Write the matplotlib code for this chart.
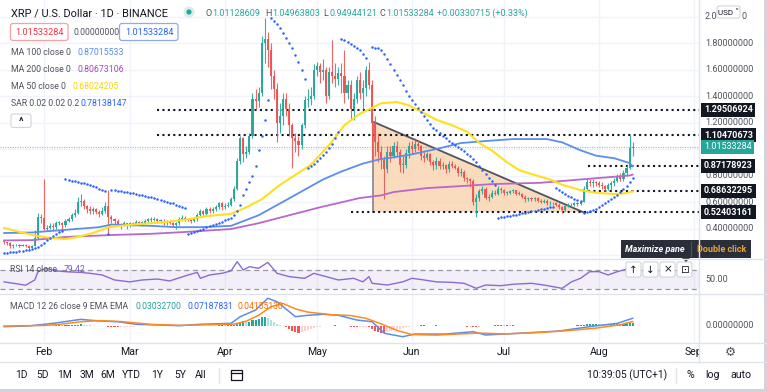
import matplotlib
matplotlib.use("Agg")
import matplotlib.pyplot as plt
import numpy as np
from matplotlib.patches import Rectangle, FancyBboxPatch, Polygon, Circle

plt.rcParams['font.family'] = ['Roboto', 'DejaVu Sans']

# ---------------- DATA ----------------
first_day = -13          # day index of first candle (0 = 1 Feb)
first_open = 0.300

close = [
    # Jan 19-31
    .298, .290, .268, .272, .276, .270, .276, .270, .256, .268, .330, .490, .480,
    # Feb
    .400, .405, .420, .410, .440, .440, .425, .460, .475, .505, .520, .600, .610, .570,
    .550, .530, .545, .525, .510, .530, .570, .490, .470, .455, .430, .425, .440, .420,
    # Mar
    .440, .430, .450, .440, .445, .455, .470, .465, .470, .460, .460, .445, .455, .440, .430,
    .440, .475, .480, .470, .465, .460, .470, .500, .530, .510, .545, .535, .545, .565, .590, .560,
    # Apr
    .570, .580, .620, .700, .910, 1.080, .960, .980, 1.100, 1.380, 1.360, 1.420, 1.800, 1.830, 1.750,
    1.550, 1.450, 1.200, 1.250, 1.380, 1.300, 1.180, 1.080, 1.060, 1.030, 1.180, 1.370, 1.380, 1.400, 1.600,
    # May
    1.630, 1.580, 1.600, 1.400, 1.580, 1.550, 1.530, 1.570, 1.550, 1.420, 1.480, 1.300, 1.380, 1.520, 1.420,
    1.460, 1.600, 1.480, 1.200, 1.050, .980, .920, .850, .980, .950, 1.020, .980, .880, .880, .970, 1.020,
    # Jun
    1.000, 1.040, 1.020, .950, .930, .960, .900, .880, .910, .870, .880, .850, .890, .870, .860,
    .820, .830, .780, .770, .760, .600, .630, .680, .700, .630, .640, .670, .660, .700, .690,
    # Jul
    .670, .670, .680, .690, .660, .660, .640, .620, .630, .620, .630, .610, .600, .610, .590,
    .590, .590, .580, .560, .540, .570, .575, .580, .590, .585, .600, .700, .750, .740, .750, .740,
    # Aug 1-12
    .730, .720, .700, .730, .740, .760, .790, .770, .820, .860, 1.01128609, 1.01533284,
]
high = [
    .305, .300, .295, .280, .285, .280, .282, .280, .272, .275, .390, .520, .510,
    .770, .430, .440, .440, .455, .460, .450, .470, .490, .520, .545, .640, .660, .620,
    .580, .570, .560, .555, .540, .560, .600, .690, .500, .480, .470, .440, .455, .445,
    .450, .450, .465, .460, .455, .470, .480, .485, .490, .480, .470, .470, .465, .465, .450,
    .450, .490, .500, .495, .480, .475, .480, .520, .550, .540, .560, .560, .560, .580, .600, .600,
    .590, .600, .640, .720, .930, 1.100, 1.090, 1.020, 1.120, 1.420, 1.450, 1.470, 1.850, 1.990, 1.880,
    1.800, 1.600, 1.500, 1.350, 1.420, 1.420, 1.350, 1.200, 1.120, 1.100, 1.200, 1.400, 1.450, 1.470, 1.640,
    1.660, 1.650, 1.680, 1.620, 1.620, 1.820, 1.650, 1.620, 1.650, 1.750, 1.520, 1.520, 1.420, 1.550, 1.580,
    1.520, 1.630, 1.660, 1.520, 1.250, 1.120, 1.020, .950, 1.020, 1.020, 1.050, 1.060, 1.000, .950, 1.000, 1.050,
    1.060, 1.080, 1.070, 1.030, .980, .980, .970, .920, .940, .930, .900, .890, .910, .910, .890,
    .870, .860, .840, .790, .780, .770, .660, .700, .720, .710, .660, .690, .690, .720, .710,
    .700, .680, .690, .700, .690, .680, .670, .650, .640, .640, .640, .640, .620, .620, .620,
    .610, .600, .600, .590, .570, .580, .590, .590, .600, .600, .610, .720, .780, .770, .770, .760,
    .760, .750, .730, .740, .760, .780, .810, .820, .840, .880, 1.10470673, 1.04963803,
]
low = [
    .285, .275, .250, .255, .265, .262, .265, .262, .248, .252, .265, .320, .440,
    .390, .380, .395, .390, .400, .425, .400, .410, .450, .460, .490, .510, .570, .550,
    .520, .510, .510, .510, .490, .500, .520, .350, .440, .430, .420, .400, .420, .400,
    .415, .420, .425, .430, .420, .440, .450, .450, .460, .450, .440, .430, .430, .435, .410,
    .400, .430, .460, .460, .455, .445, .450, .460, .490, .490, .500, .520, .520, .530, .550, .540,
    .550, .560, .570, .610, .690, .890, .900, .930, .960, 1.080, 1.300, 1.320, 1.400, 1.650, 1.620,
    1.450, 1.380, 1.050, 1.120, 1.180, 1.250, 1.100, .860, .980, .950, 1.000, 1.160, 1.320, 1.330, 1.380,
    1.550, 1.500, 1.520, 1.350, 1.380, 1.500, 1.470, 1.480, 1.420, 1.350, 1.380, 1.220, 1.220, 1.350, 1.380,
    1.300, 1.400, 1.450, .900, .950, .900, .850, .620, .820, .900, .930, .950, .830, .820, .860, .930,
    .960, .980, .990, .920, .900, .920, .880, .840, .850, .850, .850, .820, .830, .860, .850,
    .800, .800, .760, .740, .710, .580, .490, .610, .660, .620, .610, .630, .650, .650, .670,
    .650, .650, .660, .670, .650, .650, .630, .600, .610, .610, .610, .600, .590, .590, .580,
    .580, .580, .570, .550, .515, .530, .560, .565, .570, .570, .575, .600, .680, .720, .710, .720,
    .710, .700, .680, .690, .690, .720, .750, .760, .760, .800, .850, .94944121,
]

# moving averages (day index, value)
ma50_t = [-13, -8, -2, 2, 7, 11, 16, 21, 29, 35, 40, 47, 53, 61, 66, 71, 77, 81, 87, 93, 98, 103,
          110, 115, 119, 124, 128, 133, 138, 142, 146, 151, 155, 162, 165, 169, 175, 180, 186, 190, 192]
ma50_v = [0.404, 0.374, 0.343, 0.33, 0.32, 0.336, 0.366, 0.41, 0.43, 0.44, 0.45, 0.47, 0.494, 0.51,
          0.56, 0.62, 0.73, 0.79, 0.88, 1.03, 1.18, 1.265, 1.345, 1.355, 1.33, 1.27, 1.22, 1.18, 1.13,
          1.045, 0.99, 0.90, 0.84, 0.79, 0.77, 0.73, 0.69, 0.67, 0.66, 0.667, 0.6802]
ma100_t = [-13, -4, 7, 18, 22, 35, 43, 51, 61, 70, 79, 91, 97, 104, 109, 119, 128, 136, 144, 153,
           162, 164, 169, 175, 180, 186, 191, 192]
ma100_v = [0.366, 0.37, 0.39, 0.41, 0.43, 0.42, 0.41, 0.41, 0.42, 0.50, 0.615, 0.77, 0.83, 0.89,
           0.92, 0.955, 1.0, 1.045, 1.06, 1.075, 1.075, 1.075, 1.05, 0.99, 0.95, 0.93, 0.894, 0.8702]
ma200_t = [-13, -4, 7, 21, 35, 47, 61, 70, 80, 90, 103, 110, 114, 125, 136, 146, 162, 175, 191, 192]
ma200_v = [0.31, 0.312, 0.336, 0.35, 0.36, 0.375, 0.396, 0.44, 0.50, 0.56, 0.63, 0.65, 0.675, 0.705,
           0.72, 0.735, 0.745, 0.77, 0.80, 0.8067]

# parabolic SAR dots
sar_t = (list(range(-13, 7)) + list(range(7, 21)) + [21] + list(range(22, 47)) + list(range(47, 74))
         + list(range(74, 86)) + list(range(86, 97)) + list(range(97, 106)) + list(range(107, 148))
         + list(range(148, 167)) + list(range(167, 176)) + list(range(176, 193)))
sar_v = ([.215, .217, .219, .221, .224, .227, .230, .234, .238, .243, .250, .260, .275, .290, .310,
          .330, .345, .360, .370, .380]
         + [.770, .765, .760, .755, .750, .745, .740, .735, .730, .720, .710, .700, .690, .680]
         + [.360]
         + [.690, .688, .685, .682, .678, .674, .670, .666, .661, .656, .650, .645, .640, .634, .628,
            .622, .616, .610, .603, .596, .589, .581, .573, .564, .555]
         + [.360, .368, .376, .384, .392, .400, .408, .416, .425, .434, .443, .452, .462, .472, .482,
            .500, .530, .580, .650, .700, .750, .800, .870, .990, 1.10, 1.22, 1.37]
         + [1.99, 1.965, 1.94, 1.91, 1.875, 1.84, 1.80, 1.76, 1.71, 1.66, 1.60, 1.53]
         + [.855, .870, .890, .910, .930, .955, .980, 1.01, 1.04, 1.08, 1.13]
         + [1.83, 1.82, 1.81, 1.795, 1.78, 1.765, 1.745, 1.72, 1.69]
         + [1.77, 1.765, 1.76, 1.75, 1.72, 1.68, 1.64, 1.60, 1.56, 1.52, 1.48, 1.44, 1.40, 1.37, 1.34,
            1.31, 1.28, 1.25, 1.22, 1.19, 1.16, 1.14, 1.12, 1.10, 1.08, 1.06, 1.045, 1.03, 1.015, 1.00,
            .985, .965, .945, .925, .900, .870, .840, .810, .780, .755, .730]
         + [.480, .484, .488, .492, .496, .500, .505, .510, .515, .520, .525, .530, .535, .540, .545,
            .550, .555, .560, .565]
         + [.705, .690, .675, .660, .645, .635, .625, .615, .610]
         + [.515, .522, .530, .540, .550, .562, .575, .590, .605, .620, .637, .655, .675, .697, .720,
            .750, .7814])

# RSI
rsi_t = [-13, -6, -3, -2, -1, 1, 4, 8, 12, 15, 19, 23, 28, 32, 37, 41, 47, 50, 51, 54, 58, 61, 63,
         65, 67, 70, 73, 76, 80, 85, 88, 90, 96, 101, 104, 106, 107, 112, 117, 120, 124, 128, 133,
         137, 141, 144, 149, 153, 159, 163, 169, 172, 175, 178, 181, 184, 187, 189, 190, 191, 192]
rsi_v = [45, 38, 49, 66, 70, 73, 68, 66, 65, 63, 59.5, 49, 45, 49, 51, 47, 59.5, 65, 52.5, 59.5, 63,
         68, 87.5, 70, 77, 73.5, 86, 63, 56, 52.5, 63, 59.5, 49, 52.5, 45, 56, 42, 38.4, 45, 52.5,
         49, 45, 44, 42, 31.4, 38.4, 37, 40, 42, 38.4, 31.4, 45, 52.5, 66.5, 66.5, 59.5, 66.5, 70,
         72, 80, 79.42]

# MACD
macd_t = [-13, -5, 3, 12, 18, 24, 30, 44, 51, 61, 64, 69, 73, 76, 82, 86, 91, 96, 102, 107, 111,
          117, 121, 131, 140, 144, 153, 168, 178, 187, 192]
macd_v = [-0.006, 0.0, 0.025, 0.062, 0.047, 0.04, 0.016, 0.003, 0.016, 0.025, 0.087, 0.149, 0.259,
          0.227, 0.087, 0.10, 0.109, 0.10, 0.056, 0.04, -0.068, -0.10, -0.075, -0.075, -0.053,
          -0.084, -0.071, -0.047, -0.006, 0.025, 0.0719]
sig_t = [-13, 0, 5, 12, 18, 25, 35, 45, 55, 62, 66, 70, 74, 78, 82, 86, 94, 100, 105, 110, 115,
         120, 128, 135, 142, 150, 160, 170, 180, 188, 192]
sig_v = [0.0, 0.005, 0.015, 0.04, 0.05, 0.042, 0.015, 0.006, 0.012, 0.018, 0.045, 0.10, 0.18, 0.21,
         0.16, 0.13, 0.105, 0.098, 0.072, 0.02, -0.04, -0.08, -0.085, -0.075, -0.066, -0.074,
         -0.063, -0.045, -0.02, 0.012, 0.0416]
hist = [
    0.001, 0.001, -0.001, -0.001, 0.000, 0.000, 0.001, 0.000, -0.001, 0.000,
    0.004, 0.012, 0.015,
    0.010, 0.008, 0.007, 0.006, 0.006, 0.006, 0.005, 0.007, 0.008, 0.010, 0.012,
    0.014, 0.015, 0.014, 0.010, 0.007, 0.004, 0.002, 0.000, -0.002,
    -0.003, -0.008, -0.011, -0.013, -0.014, -0.013, -0.011, -0.009, -0.007, -0.005,
    -0.003, -0.002, -0.001, 0.000, 0.001, 0.001, 0.002, 0.001, 0.000, -0.001, -0.002, -0.002, -0.003,
    -0.002, -0.001, 0.001, 0.002, 0.003, 0.003, 0.002, 0.001, 0.001, 0.000, 0.001, 0.002, 0.003,
    0.004, 0.005, 0.006, 0.005, 0.005, 0.006, 0.008,
    0.020, 0.040, 0.045, 0.040, 0.042, 0.055, 0.058, 0.062, 0.080, 0.085,
    0.072, 0.055, 0.040, 0.018, 0.008, 0.004, -0.005,
    -0.025, -0.045, -0.058, -0.065, -0.060, -0.045, -0.035, -0.025, -0.015, -0.010, -0.006, -0.004, -0.002,
    0.001, 0.004, 0.005, 0.004, 0.002, 0.000, -0.002, -0.006,
    -0.010, -0.012, -0.010, -0.008, -0.006, -0.010,
    -0.030, -0.045, -0.055, -0.065, -0.068, -0.060,
    -0.050, -0.040, -0.032, -0.025, -0.020, -0.014, -0.008, -0.004,
    0.002, 0.004, 0.005, 0.005, 0.004, 0.003, 0.004, 0.005, 0.004, 0.003, 0.003, 0.002, 0.002, 0.001, 0.000, -0.001,
    -0.004, -0.006, -0.005, -0.006, -0.010, -0.008,
    -0.004, -0.001, 0.002, 0.004, 0.006, 0.007, 0.007, 0.006, 0.006, 0.005, 0.005, 0.004, 0.004, 0.003,
    0.003, 0.003, 0.002, 0.002, 0.001, 0.001, 0.000, -0.001, -0.002,
    -0.002, -0.003, -0.003, -0.004, -0.004, -0.002, 0.001,
    0.004, 0.006, 0.008, 0.012, 0.016, 0.020, 0.022, 0.022, 0.021, 0.019, 0.018, 0.017, 0.018, 0.019,
    0.020, 0.021, 0.022, 0.024, 0.028, 0.0303,
]

# horizontal dotted levels and triangle
level_values = [1.29506924, 1.10470673, 0.87178923, 0.68632295, 0.52403161]
level_start = [37, 37, 177.5, 177.5, 100]
triangle_pts = [(107.3, 1.206), (107.3, 0.524), (175.8, 0.524)]
last_price = 1.01533284

month_labels = ['Feb', 'Mar', 'Apr', 'May', 'Jun', 'Jul', 'Aug', 'Sep']
month_pos = [0, 28, 59, 89, 120, 150, 181, 212]
price_ticks = [0.4, 0.6, 0.8, 1.2, 1.4, 1.6, 1.8, 2.0]
grid_prices = [0.2, 0.4, 0.6, 0.8, 1.0, 1.2, 1.4, 1.6, 1.8, 2.0]

# ---------------- FIGURE ----------------
W, H = 767, 392
fig = plt.figure(figsize=(W / 100, H / 100), dpi=100)
fig.patch.set_facecolor('white')

def pax(x0, y0, x1, y1, z=1):
    a = fig.add_axes([x0 / W, 1 - y1 / H, (x1 - x0) / W, (y1 - y0) / H], zorder=z)
    a.set_axis_off()
    a.patch.set_alpha(0)
    return a

PX0, PXD = 44.0, 3.066
TL, TR = -PX0 / PXD, (699 - PX0) / PXD

UP, DN = '#26a69a', '#ef5350'
GRID = '#f0f3fa'
TXT = '#131722'
LBL = '#50535e'

t = np.arange(first_day, first_day + len(close))
c = np.array(close); hi = np.array(high); lo = np.array(low)
o = np.concatenate([[first_open], c[:-1]])
o[-1] = 1.01128609

# main pane
ax = pax(0, 0, 699, 258)
ax.set_xlim(TL, TR)
ax.set_ylim(1 + (149 - 258) / 132.5, 1 + 149 / 132.5)
for gp in grid_prices:
    ax.axhline(gp, color=GRID, lw=1, zorder=0)
for mp in month_pos:
    ax.axvline(mp, color=GRID, lw=1, zorder=0)

tri = Polygon(triangle_pts, closed=True, facecolor='#f9d5b3', edgecolor='none', alpha=0.85, zorder=1)
ax.add_patch(tri)
ax.plot([triangle_pts[0][0], triangle_pts[2][0]], [triangle_pts[0][1], triangle_pts[2][1]],
        color='#50535e', lw=1.3, zorder=2)
ax.plot([triangle_pts[0][0], triangle_pts[1][0]], [triangle_pts[0][1], triangle_pts[1][1]],
        color='#8a8d96', lw=1.3, zorder=2)

ax.axhline(last_price, color='#26a69a', lw=0.8, ls=(0, (1, 1.2)), alpha=0.6, zorder=1)

for lv, ls0 in zip(level_values, level_start):
    ax.hlines(lv, ls0, TR, colors='#131722', lw=1.5, linestyles=(0, (1, 1.6)), zorder=3)

cols = np.where(c >= o, UP, DN)
ax.vlines(t, lo, hi, colors=cols, lw=0.8, alpha=0.9, zorder=4)
body_lo = np.minimum(o, c)
body_h = np.maximum(np.abs(c - o), 0.006)
ax.bar(t, body_h, bottom=body_lo, width=0.68, color=cols, lw=0, alpha=0.95, zorder=5)

ax.plot(ma200_t, ma200_v, color='#ba68c8', lw=1.3, zorder=6)
ax.plot(ma100_t, ma100_v, color='#5b8def', lw=1.3, zorder=6)
ax.plot(ma50_t, ma50_v, color='#ffe01b', lw=1.5, zorder=6)
ax.scatter(sar_t, sar_v, s=3.2, color='#2962ff', lw=0, zorder=7)

# RSI pane
ar = pax(0, 259, 699, 293)
ar.set_xlim(TL, TR)
ar.set_ylim(50 - (293 - 279.5) / 0.475, 50 + (279.5 - 259) / 0.475)
for mp in month_pos:
    ar.axvline(mp, color=GRID, lw=1, zorder=0)
ar.axhspan(30, 70, color='#7e57c2', alpha=0.09, lw=0, zorder=0)
for lvl in (70, 30):
    ar.axhline(lvl, color='#9598a1', lw=0.9, ls=(0, (4, 3)), zorder=1)
ar.plot(rsi_t, rsi_v, color='#8c6bd0', lw=1.0, zorder=3)

# MACD pane
am = pax(0, 294, 699, 342)
am.set_xlim(TL, TR)
am.set_ylim((326 - 342) * 0.00934, (326 - 294) * 0.00934)
for mp in month_pos:
    am.axvline(mp, color=GRID, lw=1, zorder=0)
hv = np.array(hist)
hcols = []
for i, hval in enumerate(hv):
    prev = hv[i - 1] if i > 0 else 0
    if hval >= 0:
        hcols.append('#26a69a' if hval >= prev else '#b2dfdb')
    else:
        hcols.append('#ffcdd2' if hval > prev else '#ff5252')
am.bar(t, hv, width=0.68, color=hcols, lw=0, zorder=2)
am.plot(macd_t, macd_v, color='#5b8def', lw=1.1, zorder=3)
am.plot(sig_t, sig_v, color='#ff8a1e', lw=1.1, zorder=4)

# time axis
at = pax(0, 342, 699, 362)
at.set_xlim(TL, TR)
at.set_ylim(0, 1)
for lab, mp in zip(month_labels, month_pos):
    at.text(mp, 0.5, lab, ha='center', va='center', fontsize=7.6, color=TXT, clip_on=True)

# ---------------- OVERLAY (pixel coords) ----------------
ov = pax(0, 0, W, H, z=10)
ov.set_xlim(0, W)
ov.set_ylim(H, 0)

LINE = '#e0e3eb'
ov.plot([699, 699], [0, 362], color=LINE, lw=1)
for yy in (258.5, 293.5, 342.5):
    ov.plot([0, 767], [yy, yy], color=LINE, lw=1)
ov.plot([0, 767], [362, 362], color=LINE, lw=1)
ov.add_patch(Rectangle((0, 389), 767, 3, color='#d1d4dc', lw=0))
ov.add_patch(Rectangle((764, 0), 3, 392, color='#d1d4dc', lw=0))

# price axis labels
ymap = lambda p: 149 - 132.5 * (p - 1)
for p in price_ticks:
    if p == 2.0:
        ov.text(705, ymap(p), '2.0', fontsize=6.5, color=LBL, va='center', ha='left')
        ov.text(742, ymap(p), '0', fontsize=6.5, color=LBL, va='center', ha='left')
    else:
        ov.text(705, ymap(p), '%.8f' % p, fontsize=6.5, color=LBL, va='center', ha='left')
for lv in level_values:
    ov.text(704, ymap(lv), '%.8f' % lv, fontsize=6.5, color='white', va='center', ha='left',
            fontweight='bold',
            bbox=dict(boxstyle='square,pad=0.28', fc='#131722', ec='none'))
ov.text(704, ymap(last_price), '%.8f' % last_price, fontsize=6.5, color='white', va='center',
        ha='left', bbox=dict(boxstyle='square,pad=0.28', fc='#26a69a', ec='none'))
# USD button
ov.add_patch(FancyBboxPatch((717, 6), 23, 12, boxstyle='round,pad=0,rounding_size=2',
                            fc='white', ec='#d1d4dc', lw=0.8))
ov.text(728.5, 12.3, 'USD ˅', fontsize=5.8, color=TXT, ha='center', va='center')

ov.text(705, 280, '50.00', fontsize=6.5, color=LBL, va='center')
ov.text(705, 326, '0.00000000', fontsize=6.5, color=LBL, va='center')

# header
ov.text(11, 13, 'XRP / U.S. Dollar · 1D · BINANCE', fontsize=7.9, color=TXT, va='center')
ov.add_patch(Circle((189, 12), 5.5, color='#d6efec', lw=0))
ov.add_patch(Circle((189, 12), 2.6, color='#26a69a', lw=0))
hdr = [(206, 'O', LBL), (212, '1.01128609', UP), (265, 'H', LBL), (272, '1.04963803', UP),
       (323, 'L', LBL), (329, '0.94944121', UP), (379, 'C', LBL), (386, '1.01533284', UP),
       (437, '+0.00330715 (+0.33%)', UP)]
for xx, s, col in hdr:
    ov.text(xx, 13, s, fontsize=6.5, color=col, va='center')

ov.add_patch(FancyBboxPatch((10.5, 23.5), 57.5, 17, boxstyle='round,pad=0,rounding_size=2.5',
                            fc='white', ec='#f7a1a5', lw=0.9))
ov.text(39, 32.2, '1.01533284', fontsize=6.6, color='#f23645', ha='center', va='center')
ov.text(74, 32.2, '0.00000000', fontsize=6.2, color=LBL, va='center')
ov.add_patch(FancyBboxPatch((119.5, 23.5), 58.5, 17, boxstyle='round,pad=0,rounding_size=2.5',
                            fc='white', ec='#8fa9f5', lw=0.9))
ov.text(149, 32.2, '1.01533284', fontsize=6.6, color='#2962ff', ha='center', va='center')

legend_rows = [(52, 'MA 100 close 0', 77, '0.87015533', '#5b8def'),
               (69.5, 'MA 200 close 0', 77, '0.80673106', '#ab47bc'),
               (86.5, 'MA 50 close 0', 72.5, '0.68024205', '#f5d80f'),
               (103.5, 'SAR 0.02 0.02 0.2', 80.5, '0.78138147', '#2962ff')]
for yy, lab, xv, val, col in legend_rows:
    ov.text(11, yy, lab, fontsize=6.3, color=LBL, va='center')
    ov.text(xv, yy, val, fontsize=6.3, color=col, va='center')
ov.add_patch(FancyBboxPatch((11, 114), 20, 13.5, boxstyle='round,pad=0,rounding_size=2',
                            fc='white', ec='#d1d4dc', lw=0.8))
ov.text(21, 121.5, '^', fontsize=7.5, color=TXT, ha='center', va='center', fontweight='bold')

# RSI / MACD legends
ov.text(10, 270, 'RSI 14 close', fontsize=6.2, color=LBL, va='center')
ov.text(64, 270, '79.42', fontsize=6.2, color='#7e57c2', va='center')
ov.text(10, 306.5, 'MACD 12 26 close 9 EMA EMA', fontsize=6.2, color=LBL, va='center')
ov.text(135, 306.5, '0.03032700', fontsize=6.2, color='#26a69a', va='center')
ov.text(188, 306.5, '0.07187831', fontsize=6.2, color='#2962ff', va='center')
ov.text(238, 306.5, '0.04155130', fontsize=6.2, color='#ff6d00', va='center')

# pane buttons
for bx, sym in zip([626, 643, 660, 677], ['↑', '↓', '×', '⊡']):
    ov.add_patch(FancyBboxPatch((bx, 262), 15, 15, boxstyle='round,pad=0,rounding_size=2',
                                fc='white', ec='#d1d4dc', lw=0.8))
    ov.text(bx + 7.5, 269.8, sym, fontsize=7.5, color=TXT, ha='center', va='center',
            family=['DejaVu Sans'])

# tooltip
ov.add_patch(Rectangle((621, 240), 130, 18, color='#2a2e39', lw=0))
ov.plot([691, 691], [242, 256], color='#50535e', lw=0.8)
ov.add_patch(Polygon([(682, 258), (690, 258), (686, 262)], color='#2a2e39', lw=0))
ov.text(625, 249.5, 'Maximize pane', fontsize=6.5, color='white', va='center', style='italic',
        fontweight='bold')
ov.text(697, 249.5, 'Double click', fontsize=6.5, color='#e8a33d', va='center', fontweight='bold')

# gear icon
ov.text(730, 352, '⚙', fontsize=9, color=LBL, ha='center', va='center', family=['DejaVu Sans'])

# bottom toolbar
for xx, s in zip([21, 43, 64, 87, 108, 131, 157, 180, 201],
                 ['1D', '5D', '1M', '3M', '6M', 'YTD', '1Y', '5Y', 'All']):
    ov.text(xx, 375.5, s, fontsize=7.4, color=TXT, ha='center', va='center')
ov.plot([219, 219], [368, 383], color=LINE, lw=1)
ov.add_patch(Rectangle((231, 370), 11, 10, fc='none', ec=TXT, lw=0.9))
ov.plot([231, 242], [373, 373], color=TXT, lw=0.9)
ov.text(627, 375.5, '10:39:05 (UTC+1)', fontsize=7.4, color=TXT, ha='center', va='center')
ov.plot([676, 676], [368, 383], color=LINE, lw=1)
ov.text(690, 375.5, '%', fontsize=7.6, color=TXT, ha='center', va='center')
ov.text(712, 375.5, 'log', fontsize=7.6, color=TXT, ha='center', va='center')
ov.text(741, 375.5, 'auto', fontsize=7.6, color=TXT, ha='center', va='center')

fig.savefig('out.png', dpi=100, facecolor='white')
